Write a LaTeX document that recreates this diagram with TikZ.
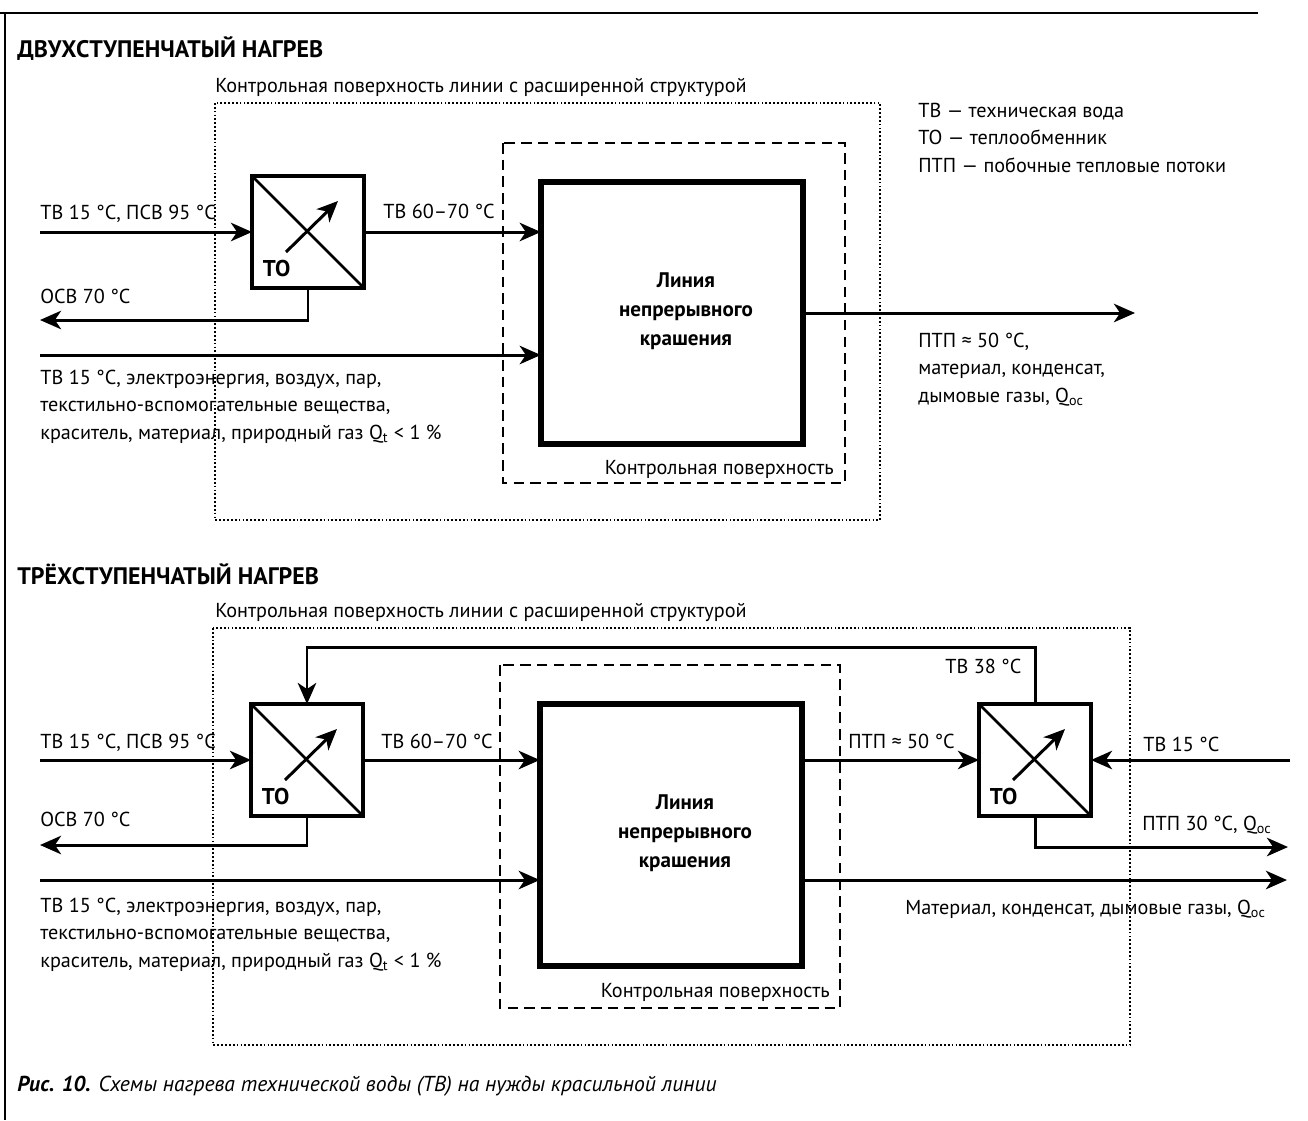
\documentclass[tikz,border=0pt]{standalone}
\usepackage{fontspec}
\setmainfont{PT Sans}
\usetikzlibrary{positioning,arrows.meta}

\begin{document}
\begin{tikzpicture}[x=0.02cm,y=-0.02cm,
  flow/.style={line width=1.7pt,-{Stealth[length=12pt,width=10.5pt,inset=3.5pt]}},
  wire/.style={line width=1.5pt},
  hx/.style={draw,line width=2.8pt,minimum size=2.24cm,outer sep=0pt,inner sep=0pt},
  dyebox/.style={draw,line width=3.2pt,minimum width=5.25cm,minimum height=5.25cm,
    align=center,outer sep=0pt,font=\bfseries\fontsize{12}{16.5}\selectfont},
  lbl/.style={anchor=base west,inner sep=0pt,align=left,font=\fontsize{11.5}{15.5}\selectfont},
  tag/.style={inner sep=0pt,font=\bfseries\fontsize{13}{13}\selectfont},
  head/.style={anchor=base west,inner sep=0pt,font=\bfseries\fontsize{13.6}{15}\selectfont},
  ctrl/.style={line width=1.3pt,dash pattern=on 6pt off 3.5pt},
  extctrl/.style={line width=0.7pt,dash pattern=on 1pt off 1.2pt}]
\useasboundingbox (0,0) rectangle (1308,1120);

\draw[line width=1pt] (0,13) -- (1258,13);
\draw[line width=1pt] (5,13) -- (5,1120);

% two-stage heating
\node[head] (h1) at (17,57) {ДВУХСТУПЕНЧАТЫЙ НАГРЕВ};
\node[lbl] (c1) at (215,92) {Контрольная поверхность линии с расширенной структурой};
\draw[extctrl] (215,103) rectangle (880,520);
\draw[ctrl] (503,143) rectangle (845,483);
\node[lbl,anchor=base east] (k1) at (834,474) {Контрольная поверхность};
\node[dyebox] (d1) at (672,313) {};
\node[align=center,font=\bfseries\fontsize{12}{16.5}\selectfont] (d1t) at (686,311) {Линия\\непрерывного\\крашения};
\node[hx] (t1) at (308,232) {};
\node[lbl,anchor=north west] (g1) at (918,103)
  {ТВ — техническая вода\\ТО — теплообменник\\ПТП — побочные тепловые потоки};

\coordinate (i1) at (40,232);
\coordinate (r1) at (40,320);
\coordinate (i2) at (40,355);
\coordinate (e1) at (1135,313);
\draw[flow] (i1) -- (t1.west);
\draw[flow] (t1.east) -- (t1.east -| d1.west);
\draw[flow] (t1.south) |- (r1);
\draw[flow] (i2) -- (i2 -| d1.west);
\draw[flow] (d1.east) -- (e1);

\node[lbl] (l1) at (40,219) {ТВ 15 °C, ПСВ 95 °C};
\node[lbl] (l2) at (383,218) {ТВ 60–70 °C};
\node[lbl] (l3) at (40,303) {ОСВ 70 °C};
\node[lbl,anchor=north west] (l4) at (40,370)
  {ТВ 15 °C, электроэнергия, воздух, пар,\\текстильно-вспомогательные вещества,\\краситель, материал, природный газ Q\textsubscript{t} < 1 \%};
\node[lbl,anchor=north west] (l5) at (918,333)
  {ПТП ≈ 50 °C,\\материал, конденсат,\\дымовые газы, Q\textsubscript{ос}};

% three-stage heating
\node[head] (h2) at (17,584) {ТРЁХСТУПЕНЧАТЫЙ НАГРЕВ};
\node[lbl] (c2) at (215,617) {Контрольная поверхность линии с расширенной структурой};
\draw[extctrl] (213,628) rectangle (1130,1045);
\draw[ctrl] (500,665) rectangle (840,1008);
\node[lbl,anchor=base east] (k2) at (830,997) {Контрольная поверхность};
\node[dyebox] (d2) at (671,835) {};
\node[align=center,font=\bfseries\fontsize{12}{16.5}\selectfont] (d2t) at (685,833) {Линия\\непрерывного\\крашения};
\node[hx] (t2) at (307,760) {};
\node[hx] (t3) at (1035,760) {};

\coordinate (f1) at (670,647);
\coordinate (i3) at (40,760);
\coordinate (r2) at (40,845);
\coordinate (i4) at (40,880);
\coordinate (i5) at (1290,760);
\coordinate (e3) at (1288,847);
\coordinate (e4) at (1287,880);
\draw[flow] (t3.north) |- (f1) -| (t2.north);
\draw[flow] (i3) -- (t2.west);
\draw[flow] (t2.east) -- (t2.east -| d2.west);
\draw[flow] (t2.south) |- (r2);
\draw[flow] (i4) -- (i4 -| d2.west);
\draw[flow] (t2.east -| d2.east) -- (t3.west);
\draw[flow] (i5) -- (t3.east);
\draw[flow] (t3.south) |- (e3);
\draw[flow] (i4 -| d2.east) -- (e4);

\node[lbl] (l6) at (945,673) {ТВ 38 °C};
\node[lbl] (l7) at (40,748) {ТВ 15 °C, ПСВ 95 °C};
\node[lbl] (l8) at (381,748) {ТВ 60–70 °C};
\node[lbl] (l9) at (848,748) {ПТП ≈ 50 °C};
\node[lbl] (l10) at (1143,751) {ТВ 15 °C};
\node[lbl] (l11) at (40,826) {ОСВ 70 °C};
\node[lbl] (l12) at (1142,830) {ПТП 30 °C, Q\textsubscript{ос}};
\node[lbl,anchor=north west] (l13) at (40,898)
  {ТВ 15 °C, электроэнергия, воздух, пар,\\текстильно-вспомогательные вещества,\\краситель, материал, природный газ Q\textsubscript{t} < 1 \%};
\node[lbl] (l14) at (905,914) {Материал, конденсат, дымовые газы, Q\textsubscript{ос}};

% heat exchanger symbols
\foreach \t in {t1,t2,t3}{
  \draw[wire] (\t.north west) -- (\t.south east);
  \draw[flow] ([shift={(-0.44cm,-0.4cm)}]\t.center) -- ([shift={(0.6cm,0.62cm)}]\t.center);
  \node[tag,above right=6pt and 6pt of \t.south west] (\t o) {ТО};
}

\node[head,font=\itshape\fontsize{12.3}{14}\selectfont] (cap) at (17,1091)
  {\textbf{Рис. 10.} Схемы нагрева технической воды (ТВ) на нужды красильной линии};
\end{tikzpicture}
\end{document}
